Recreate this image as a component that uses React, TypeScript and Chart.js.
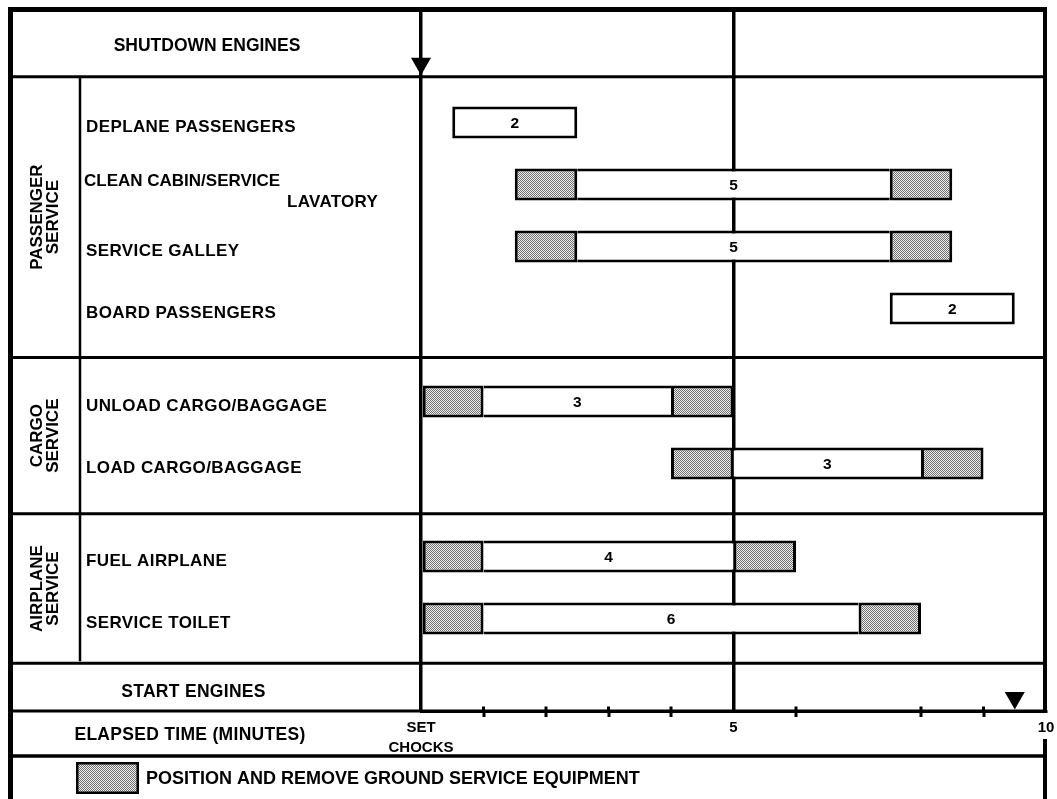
import React, { useEffect, useRef } from 'react';
import { Chart, registerables } from 'chart.js';

Chart.register(...registerables);

// ---------------- data ----------------
const TASKS = [
  'DEPLANE PASSENGERS',
  'CLEAN CABIN/SERVICE',
  'SERVICE GALLEY',
  'BOARD PASSENGERS',
  'UNLOAD CARGO/BAGGAGE',
  'LOAD CARGO/BAGGAGE',
  'FUEL AIRPLANE',
  'SERVICE TOILET',
];
const TASK_SUBLABELS = ['', 'LAVATORY', '', '', '', '', '', ''];
const ROW_POS = [1, 2, 3, 4, 5.5, 6.5, 8, 9];
const TASK_START = [0.5, 2.5, 2.5, 7.5, 1, 5, 1, 1];
const TASK_END = [2.5, 7.5, 7.5, 9.5, 4, 8, 5, 7];
const EQUIP_BEFORE = [0, 1, 1, 0, 1, 1, 1, 1];
const EQUIP_AFTER = [0, 1, 1, 0, 1, 1, 1, 1];

const GROUPS = [
  ['PASSENGER', 'SERVICE'],
  ['CARGO', 'SERVICE'],
  ['AIRPLANE', 'SERVICE'],
];
const GROUP_EDGES = [0.26, 4.79, 7.31, 9.72];

const EVENTS = ['SHUTDOWN ENGINES', 'START ENGINES'];
const EVENT_TIMES = [0, 9.5];

const X_MIN = 0;
const X_MAX = 10;
const MAJOR_TICKS = [0, 5];
const MINOR_TICKS = [1, 2, 3, 4, 6, 8, 9];
const TICK_LABELS: Record<number, string | string[]> = { 0: ['SET', 'CHOCKS'], 5: '5', 10: '10' };
const AXIS_TITLE = 'ELAPSED TIME (MINUTES)';
const LEGEND_LABEL = 'POSITION AND REMOVE GROUND SERVICE EQUIPMENT';

const Y_MIN = -0.815;
const Y_MAX = 10.49;

// ---------------- styles ----------------
const FONT = '"Liberation Sans", Arial, Helvetica, sans-serif';
const BLACK = '#000000';

function makeStipple(): CanvasPattern | string {
  const c = document.createElement('canvas');
  c.width = 2;
  c.height = 2;
  const g = c.getContext('2d');
  if (!g) return '#b4b4b4';
  g.fillStyle = '#eeeeee';
  g.fillRect(0, 0, 2, 2);
  g.fillStyle = '#707070';
  g.fillRect(0, 0, 1, 1);
  g.fillRect(1, 1, 1, 1);
  return g.createPattern(c, 'repeat') || '#b4b4b4';
}

function capText(
  ctx: CanvasRenderingContext2D,
  text: string,
  x: number,
  yCenter: number,
  size: number,
  align: CanvasTextAlign,
  weight = 'bold',
  spacing = 0,
) {
  ctx.font = `${weight} ${size}px ${FONT}`;
  ctx.textAlign = align;
  ctx.textBaseline = 'alphabetic';
  (ctx as any).letterSpacing = `${spacing}px`;
  ctx.fillText(text, x, yCenter + size * 0.358);
  (ctx as any).letterSpacing = '0px';
}

const tablePlugin = {
  id: 'turnaroundTable',
  afterDatasetsDraw(chart: any) {
    const { ctx } = chart;
    const meta = chart.getDatasetMeta(1);
    ctx.save();
    ctx.fillStyle = BLACK;
    meta.data.forEach((el: any, i: number) => {
      const p = el.getProps(['x', 'base', 'y'], true);
      capText(ctx, String(TASK_END[i] - TASK_START[i]), (p.x + p.base) / 2, p.y, 15.5, 'center');
    });
    ctx.restore();
  },
  afterDraw(chart: any) {
    const { ctx, chartArea: ca, scales } = chart;
    const xs = scales.x;
    const ys = scales.y;
    const H = chart.height;
    const L = 10.5;
    const R = ca.right - 1;
    const T = ca.top - 0.5;
    const axisY = ca.bottom;
    const legendTop = 756;
    const colX = 80;

    const line = (x1: number, y1: number, x2: number, y2: number, w: number) => {
      ctx.beginPath();
      ctx.lineWidth = w;
      ctx.moveTo(x1, y1);
      ctx.lineTo(x2, y2);
      ctx.stroke();
    };
    const tri = (cx: number, tipY: number) => {
      ctx.beginPath();
      ctx.moveTo(cx, tipY);
      ctx.lineTo(cx - 10, tipY - 17.5);
      ctx.lineTo(cx + 10, tipY - 17.5);
      ctx.closePath();
      ctx.fill();
    };

    ctx.save();
    ctx.strokeStyle = BLACK;
    ctx.fillStyle = BLACK;
    ctx.lineCap = 'butt';

    // outer frame
    line(L, T - 2.5, L, H, 5);
    line(L - 2.5, T, R + 2, T, 5);
    line(R, T - 2.5, R, axisY + 1.5, 4);
    line(R, axisY + 28, R, H, 4);

    // horizontal rules
    GROUP_EDGES.forEach((v) => {
      const py = ys.getPixelForValue(v);
      line(L - 2.5, py, R + 2, py, 3);
    });
    line(L - 2.5, axisY, R, axisY, 3);
    line(L - 2.5, legendTop, R + 2, legendTop, 3.5);

    // group column divider
    const gTop = ys.getPixelForValue(GROUP_EDGES[0]);
    const gBot = ys.getPixelForValue(GROUP_EDGES[GROUP_EDGES.length - 1]);
    line(colX, gTop, colX, gBot - 2, 2.5);

    // minor tick upper halves
    MINOR_TICKS.forEach((v) => {
      const px = xs.getPixelForValue(v);
      line(px, axisY - 4.5, px, axisY, 3);
    });

    // event markers
    tri(xs.getPixelForValue(EVENT_TIMES[0]), gTop - 1.5);
    tri(xs.getPixelForValue(EVENT_TIMES[1]), axisY - 1.5);

    // event labels
    capText(ctx, EVENTS[0], 207, (T + gTop) / 2 + 2, 17.5, 'center');
    capText(ctx, EVENTS[1], 193.5, (gBot + axisY) / 2 + 4, 17.5, 'center', 'bold', 0.3);
    capText(ctx, AXIS_TITLE, 190, (axisY + legendTop) / 2 + 0.5, 17.5, 'center', 'bold', 0.3);

    // group labels (rotated)
    GROUPS.forEach((lines, k) => {
      const cy = (ys.getPixelForValue(GROUP_EDGES[k]) + ys.getPixelForValue(GROUP_EDGES[k + 1])) / 2;
      ctx.save();
      ctx.translate(44, cy);
      ctx.rotate(-Math.PI / 2);
      lines.forEach((t, j) => {
        capText(ctx, t, 0, (j - (lines.length - 1) / 2) * 16.5, 17, 'center');
      });
      ctx.restore();
    });

    // row labels
    TASKS.forEach((t, i) => {
      const py = ys.getPixelForValue(ROW_POS[i]);
      if (TASK_SUBLABELS[i]) {
        capText(ctx, t, 84, py - 5, 17, 'left');
        capText(ctx, TASK_SUBLABELS[i], 287, py + 16.5, 17, 'left', 'bold', 0.3);
      } else {
        capText(ctx, t, 86, py + 3, 17, 'left', 'bold', 0.4);
      }
    });

    // legend
    const swatch = chart.data.datasets[0].backgroundColor;
    ctx.fillStyle = swatch;
    ctx.fillRect(76, 762, 63, 32);
    ctx.lineWidth = 2.5;
    ctx.strokeRect(77.25, 763.25, 60.5, 29.5);
    ctx.fillStyle = BLACK;
    capText(ctx, LEGEND_LABEL, 146, 777.5, 18, 'left');

    ctx.restore();
  },
};

export default function App() {
  const ref = useRef<HTMLCanvasElement>(null);

  useEffect(() => {
    const canvas = ref.current;
    if (!canvas) return;
    const stipple = makeStipple();
    const idx = TASKS.map((_, i) => i);
    const beforeRows = idx.filter((i) => EQUIP_BEFORE[i] > 0);
    const afterRows = idx.filter((i) => EQUIP_AFTER[i] > 0);
    const common: any = {
      borderColor: BLACK,
      borderSkipped: false,
      barThickness: 32,
      grouped: false,
      inflateAmount: 0,
    };

    const chart = new Chart(canvas, {
      type: 'bar',
      data: {
        datasets: [
          {
            label: LEGEND_LABEL,
            data: beforeRows.map((i) => ({ y: ROW_POS[i], x: [TASK_START[i] - EQUIP_BEFORE[i], TASK_START[i]] })),
            backgroundColor: stipple,
            borderWidth: 3,
            ...common,
          },
          {
            label: 'Task',
            data: idx.map((i) => ({ y: ROW_POS[i], x: [TASK_START[i], TASK_END[i]] })),
            backgroundColor: '#ffffff',
            borderWidth: (c: any) => {
              const i = c.dataIndex;
              if (i == null) return 3;
              return { top: 3, bottom: 3, left: EQUIP_BEFORE[i] ? 0 : 3, right: EQUIP_AFTER[i] ? 0 : 3 };
            },
            ...common,
          },
          {
            label: LEGEND_LABEL,
            data: afterRows.map((i) => ({ y: ROW_POS[i], x: [TASK_END[i], TASK_END[i] + EQUIP_AFTER[i]] })),
            backgroundColor: stipple,
            borderWidth: 3,
            ...common,
          },
        ] as any,
      },
      options: {
        animation: false,
        responsive: false,
        indexAxis: 'y',
        layout: { padding: { left: 421, right: 11, top: 10, bottom: 0 } },
        plugins: { legend: { display: false }, tooltip: { enabled: false } },
        scales: {
          x: {
            type: 'linear',
            position: 'bottom',
            min: X_MIN,
            max: X_MAX,
            offset: false,
            afterFit: (s: any) => {
              s.height = 88;
              s.paddingLeft = 0;
              s.paddingRight = 0;
            },
            ticks: {
              stepSize: 1,
              autoSkip: false,
              maxRotation: 0,
              padding: 1,
              color: BLACK,
              font: (c: any) => ({
                family: FONT,
                weight: 'bold',
                size: 15,
                lineHeight: 1.33,
              }),
              callback: (v: any) => TICK_LABELS[Number(v)] ?? '',
            },
            grid: {
              offset: false,
              color: (c: any) => (c.tick && MAJOR_TICKS.includes(c.tick.value) ? BLACK : 'rgba(0,0,0,0)'),
              lineWidth: (c: any) => (c.tick && MAJOR_TICKS.includes(c.tick.value) ? 3.5 : 0),
              tickColor: (c: any) => (c.tick && MINOR_TICKS.includes(c.tick.value) ? BLACK : 'rgba(0,0,0,0)'),
              tickWidth: 3,
              tickLength: 6,
              drawTicks: true,
            },
            border: { display: true, color: BLACK, width: 3 },
          },
          y: {
            type: 'linear',
            reverse: true,
            min: Y_MIN,
            max: Y_MAX,
            offset: false,
            grid: { offset: false },
            display: false,
          },
        },
      } as any,
      plugins: [tablePlugin],
    });

    return () => chart.destroy();
  }, []);

  return (
    <div style={{ position: 'fixed', left: 0, top: 0, width: 1057, height: 799, background: '#ffffff' }}>
      <canvas ref={ref} width={1057} height={799} style={{ display: 'block' }} />
    </div>
  );
}
